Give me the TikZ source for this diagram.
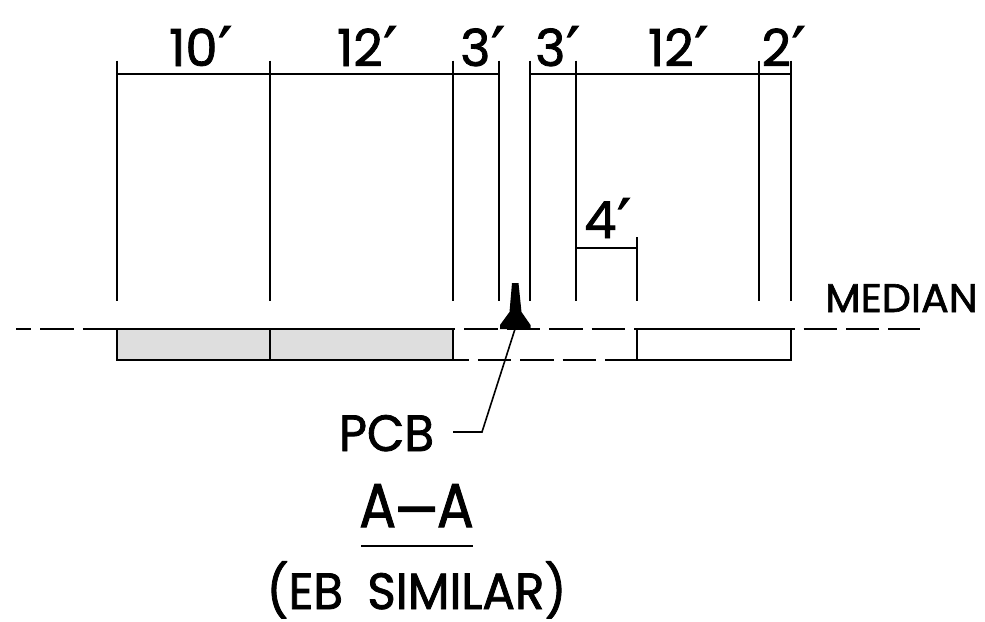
\documentclass[tikz,border=0pt]{standalone}
\usepackage{fontspec}
\setmainfont{Poppins}[FakeBold=1.6]
\newfontfamily\primefont{DejaVu Sans}[FakeBold=2]
\newcommand{\ft}{\kern1pt\raisebox{-3pt}{\scalebox{1.15}{\primefont\char"2032}}}
\begin{document}
\begin{tikzpicture}[x=1pt,y=-1pt,
  ln/.style={line width=1.6pt,black},
  dashln/.style={ln,dash pattern=on 33.4pt off 9pt},
  lbl/.style={inner sep=0pt,anchor=base,font=\fontsize{51}{60}\selectfont}]
\useasboundingbox (0,0) rectangle (985,621);
\fill[white] (0,0) rectangle (985,621);
% reference lines
\foreach \n/\x in {a/117,b/270,c/453,d/499,e/530,f/576,g/759,h/791}{
  \coordinate (\n t) at (\x,60.5);
  \coordinate (\n m) at (\x,74);
  \coordinate (\n b) at (\x,301);
  \draw[ln] (\n t) -- (\n b);
}
\draw[ln] (am) -- (dm);
\draw[ln] (em) -- (hm);
\coordinate (ft) at (576,248);
\coordinate (jt) at (637,237);
\coordinate (jm) at (637,248);
\coordinate (jb) at (637,301);
\draw[ln] (jt) -- (jb);
\draw[ln] (ft) -- (jm);
% pavement
\coordinate (r1) at (117,329);
\coordinate (r2) at (453,360);
\coordinate (r3) at (270,329);
\coordinate (r4) at (270,360);
\coordinate (r5) at (637,329);
\coordinate (r6) at (791,360);
\coordinate (m1) at (16,329);
\coordinate (m2) at (920,329);
\coordinate (p1) at (453,360);
\coordinate (p2) at (637,360);
\fill[black!13] (r1) rectangle (r2);
\draw[dashln,dash phase=18] (m1) -- (m2);
\draw[ln] (r1) rectangle (r2);
\draw[ln] (r3) -- (r4);
\draw[ln] (r5) rectangle (r6);
\draw[dashln,dash phase=17.5] (p1) -- (p2);
% barrier
\fill[black] (512,283) -- (518.5,283) -- (521.5,312) -- (530.5,325) -- (530.5,329) -- (500,329) -- (500,325) -- (509.5,312) -- cycle;
\coordinate (pcbfoot) at (515,329);
\coordinate (elbow) at (482,432);
\coordinate (pcbend) at (453,432);
\draw[ln] (pcbfoot) -- (elbow) -- (pcbend);
% labels
\node[lbl] (l1) at (200.5,66) {10\ft};
\node[lbl] (l2) at (367,66) {12\ft};
\node[lbl] (l3) at (482.5,66) {3\ft};
\node[lbl] (l4) at (557.5,66) {3\ft};
\node[lbl] (l5) at (678,66) {12\ft};
\node[lbl] (l6) at (783.5,66) {2\ft};
\node[lbl] (l7) at (607.5,238) {4\ft};
\node[inner sep=0pt,anchor=base,font=\fontsize{40}{48}\selectfont] (med) at (901.5,312) {\scalebox{1.03}[1]{MEDIAN}};
\node[lbl] (pcb) at (386.5,451) {\scalebox{0.95}[1]{PCB}};
\node[lbl,font=\fontsize{62}{72}\selectfont] (aa) at (416.5,527) {\scalebox{0.88}[1]{A\kern-3pt\raisebox{-5pt}{\scalebox{1.25}[1]{–}}\kern-3ptA}};
\coordinate (u1) at (361,546);
\coordinate (u2) at (473,546);
\draw[ln] (u1) -- (u2);
\node[lbl] (eb) at (416.5,609) {\smash{\scalebox{0.95}[1]{(EB\hspace{12pt} SIMILAR)}}};
\end{tikzpicture}
\end{document}
